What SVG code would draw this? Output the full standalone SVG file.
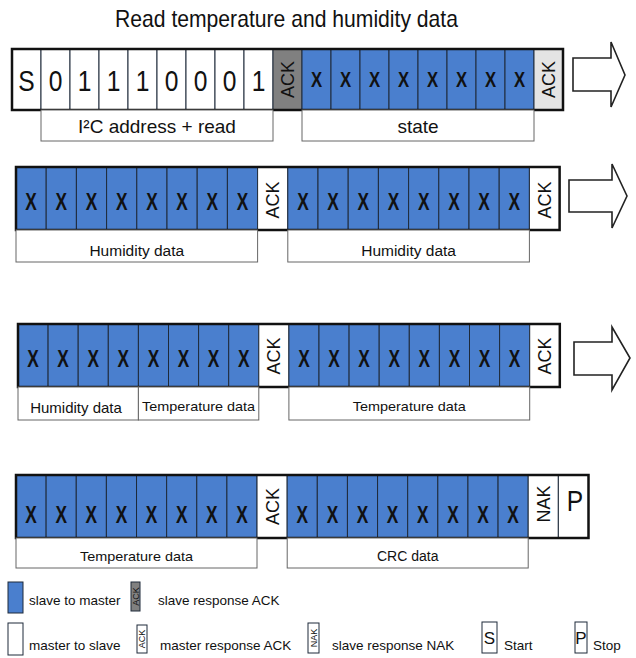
<svg xmlns="http://www.w3.org/2000/svg" width="636" height="658" viewBox="0 0 636 658">
<style>
text{font-family:"Liberation Sans",Arial,sans-serif;fill:#111}
.b{fill:#4a7fce;stroke:#1e2a3a;stroke-width:1}
.w{fill:#fff;stroke:#1e2a3a;stroke-width:1}
.g{fill:#808080;stroke:#1e2a3a;stroke-width:1}
.lg{fill:#e4e4e4;stroke:#1e2a3a;stroke-width:1}
.frame{fill:none;stroke:#111;stroke-width:2.5}
.lab{fill:#fff;stroke:#666;stroke-width:1}
.d{font-size:30px;text-anchor:middle;transform-box:fill-box;transform-origin:center;transform:scaleX(0.82)}
.x{font-size:24px;font-weight:bold;text-anchor:middle;transform-box:fill-box;transform-origin:center;transform:scaleX(0.72)}
.x1{font-size:22px;font-weight:bold;text-anchor:middle;transform-box:fill-box;transform-origin:center;transform:scaleX(0.76)}
.ack{font-size:18px;text-anchor:middle}
.t{text-anchor:middle}
.leg{font-size:13.5px}
.arr{fill:#fff;stroke:#222;stroke-width:1.6;stroke-linejoin:miter}
</style>

<text x="286.5" y="27" font-size="24" text-anchor="middle" textLength="343" lengthAdjust="spacingAndGlyphs">Read temperature and humidity data</text>

<!-- Row 1 -->
<g id="row1">
<rect class="w" x="12" y="49" width="29" height="61"/>
<rect class="w" x="41" y="49" width="29" height="61"/>
<rect class="w" x="70" y="49" width="29" height="61"/>
<rect class="w" x="99" y="49" width="29" height="61"/>
<rect class="w" x="128" y="49" width="29" height="61"/>
<rect class="w" x="157" y="49" width="29" height="61"/>
<rect class="w" x="186" y="49" width="29" height="61"/>
<rect class="w" x="215" y="49" width="29" height="61"/>
<rect class="w" x="244" y="49" width="29" height="61"/>
<rect class="g" x="273" y="49" width="29" height="61"/>
<rect class="b" x="302" y="49" width="29" height="61"/>
<rect class="b" x="331" y="49" width="29" height="61"/>
<rect class="b" x="360" y="49" width="29" height="61"/>
<rect class="b" x="389" y="49" width="29" height="61"/>
<rect class="b" x="418" y="49" width="29" height="61"/>
<rect class="b" x="447" y="49" width="29" height="61"/>
<rect class="b" x="476" y="49" width="29" height="61"/>
<rect class="b" x="505" y="49" width="29" height="61"/>
<rect class="lg" x="534" y="49" width="29" height="61"/>
<rect class="frame" x="12" y="49" width="551" height="61"/>
<text class="d" x="26.5" y="91">S</text>
<text class="d" x="55.5" y="91">0</text>
<text class="d" x="84.5" y="91">1</text>
<text class="d" x="113.5" y="91">1</text>
<text class="d" x="142.5" y="91">1</text>
<text class="d" x="171.5" y="91">0</text>
<text class="d" x="200.5" y="91">0</text>
<text class="d" x="229.5" y="91">0</text>
<text class="d" x="258.5" y="91">1</text>
<text class="ack" transform="translate(287.5,79.5) rotate(-90)" y="6.5">ACK</text>
<text class="x1" x="316.5" y="87.5">X</text>
<text class="x1" x="345.5" y="87.5">X</text>
<text class="x1" x="374.5" y="87.5">X</text>
<text class="x1" x="403.5" y="87.5">X</text>
<text class="x1" x="432.5" y="87.5">X</text>
<text class="x1" x="461.5" y="87.5">X</text>
<text class="x1" x="490.5" y="87.5">X</text>
<text class="x1" x="519.5" y="87.5">X</text>
<text class="ack" transform="translate(548.5,79.5) rotate(-90)" y="6.5">ACK</text>
</g>
<g id="row1-labels">
<rect class="lab" x="41" y="110" width="232" height="31"/>
<text class="t" x="157" y="133" font-size="19">I²C address + read</text>
<rect class="lab" x="302" y="110" width="232" height="31"/>
<text class="t" x="418" y="133" font-size="19">state</text>
</g>

<!-- Row 2 -->
<g id="row2">
<rect class="b" x="16" y="167" width="30.2" height="63"/>
<rect class="b" x="46.2" y="167" width="30.2" height="63"/>
<rect class="b" x="76.4" y="167" width="30.2" height="63"/>
<rect class="b" x="106.6" y="167" width="30.2" height="63"/>
<rect class="b" x="136.8" y="167" width="30.2" height="63"/>
<rect class="b" x="167" y="167" width="30.2" height="63"/>
<rect class="b" x="197.2" y="167" width="30.2" height="63"/>
<rect class="b" x="227.4" y="167" width="30.2" height="63"/>
<rect class="w" x="257.6" y="167" width="30.2" height="63"/>
<rect class="b" x="287.8" y="167" width="30.2" height="63"/>
<rect class="b" x="318" y="167" width="30.2" height="63"/>
<rect class="b" x="348.2" y="167" width="30.2" height="63"/>
<rect class="b" x="378.4" y="167" width="30.2" height="63"/>
<rect class="b" x="408.6" y="167" width="30.2" height="63"/>
<rect class="b" x="438.8" y="167" width="30.2" height="63"/>
<rect class="b" x="469" y="167" width="30.2" height="63"/>
<rect class="b" x="499.2" y="167" width="30.2" height="63"/>
<rect class="w" x="529.4" y="167" width="30.2" height="63"/>
<rect class="frame" x="16" y="167" width="543.6" height="63"/>
<text class="x" x="31.1" y="210">X</text>
<text class="x" x="61.3" y="210">X</text>
<text class="x" x="91.5" y="210">X</text>
<text class="x" x="121.7" y="210">X</text>
<text class="x" x="151.9" y="210">X</text>
<text class="x" x="182.1" y="210">X</text>
<text class="x" x="212.3" y="210">X</text>
<text class="x" x="242.5" y="210">X</text>
<text class="ack" transform="translate(272.7,200) rotate(-90)" y="6.5">ACK</text>
<text class="x" x="302.9" y="210">X</text>
<text class="x" x="333.1" y="210">X</text>
<text class="x" x="363.3" y="210">X</text>
<text class="x" x="393.5" y="210">X</text>
<text class="x" x="423.7" y="210">X</text>
<text class="x" x="453.9" y="210">X</text>
<text class="x" x="484.1" y="210">X</text>
<text class="x" x="514.3" y="210">X</text>
<text class="ack" transform="translate(544.5,200) rotate(-90)" y="6.5">ACK</text>
</g>
<g id="row2-labels">
<rect class="lab" x="16" y="230" width="241.6" height="32"/>
<text class="t" x="136.8" y="256" font-size="15.5">Humidity data</text>
<rect class="lab" x="287.8" y="230" width="241.6" height="32"/>
<text class="t" x="408.6" y="256" font-size="15.5">Humidity data</text>
</g>

<!-- Row 3 -->
<g id="row3">
<rect class="b" x="18" y="324" width="30.1" height="63"/>
<rect class="b" x="48.1" y="324" width="30.1" height="63"/>
<rect class="b" x="78.2" y="324" width="30.1" height="63"/>
<rect class="b" x="108.3" y="324" width="30.1" height="63"/>
<rect class="b" x="138.4" y="324" width="30.1" height="63"/>
<rect class="b" x="168.5" y="324" width="30.1" height="63"/>
<rect class="b" x="198.6" y="324" width="30.1" height="63"/>
<rect class="b" x="228.7" y="324" width="30.1" height="63"/>
<rect class="w" x="258.8" y="324" width="30.1" height="63"/>
<rect class="b" x="288.9" y="324" width="30.1" height="63"/>
<rect class="b" x="319" y="324" width="30.1" height="63"/>
<rect class="b" x="349.1" y="324" width="30.1" height="63"/>
<rect class="b" x="379.2" y="324" width="30.1" height="63"/>
<rect class="b" x="409.3" y="324" width="30.1" height="63"/>
<rect class="b" x="439.4" y="324" width="30.1" height="63"/>
<rect class="b" x="469.5" y="324" width="30.1" height="63"/>
<rect class="b" x="499.6" y="324" width="30.1" height="63"/>
<rect class="w" x="529.7" y="324" width="30.1" height="63"/>
<rect class="frame" x="18" y="324" width="541.8" height="63"/>
<text class="x" x="33" y="367">X</text>
<text class="x" x="63.1" y="367">X</text>
<text class="x" x="93.2" y="367">X</text>
<text class="x" x="123.3" y="367">X</text>
<text class="x" x="153.4" y="367">X</text>
<text class="x" x="183.5" y="367">X</text>
<text class="x" x="213.6" y="367">X</text>
<text class="x" x="243.7" y="367">X</text>
<text class="ack" transform="translate(273.8,356) rotate(-90)" y="6.5">ACK</text>
<text class="x" x="303.9" y="367">X</text>
<text class="x" x="334" y="367">X</text>
<text class="x" x="364.1" y="367">X</text>
<text class="x" x="394.2" y="367">X</text>
<text class="x" x="424.3" y="367">X</text>
<text class="x" x="454.4" y="367">X</text>
<text class="x" x="484.5" y="367">X</text>
<text class="x" x="514.6" y="367">X</text>
<text class="ack" transform="translate(544.7,356) rotate(-90)" y="6.5">ACK</text>
</g>
<g id="row3-labels">
<rect class="lab" x="18" y="387" width="120.4" height="33"/>
<text class="t" x="76" y="413" font-size="15">Humidity data</text>
<rect class="lab" x="138.4" y="387" width="120.4" height="33"/>
<text class="t" x="198.6" y="411" font-size="13.5" textLength="113" lengthAdjust="spacingAndGlyphs">Temperature data</text>
<rect class="lab" x="288.9" y="387" width="240.8" height="33"/>
<text class="t" x="409.3" y="411" font-size="13.5" textLength="113" lengthAdjust="spacingAndGlyphs">Temperature data</text>
</g>

<!-- Row 4 -->
<g id="row4">
<rect class="b" x="16" y="475" width="30.13" height="63"/>
<rect class="b" x="46.13" y="475" width="30.13" height="63"/>
<rect class="b" x="76.26" y="475" width="30.13" height="63"/>
<rect class="b" x="106.39" y="475" width="30.13" height="63"/>
<rect class="b" x="136.52" y="475" width="30.13" height="63"/>
<rect class="b" x="166.65" y="475" width="30.13" height="63"/>
<rect class="b" x="196.78" y="475" width="30.13" height="63"/>
<rect class="b" x="226.91" y="475" width="30.13" height="63"/>
<rect class="w" x="257.04" y="475" width="30.13" height="63"/>
<rect class="b" x="287.17" y="475" width="30.13" height="63"/>
<rect class="b" x="317.3" y="475" width="30.13" height="63"/>
<rect class="b" x="347.43" y="475" width="30.13" height="63"/>
<rect class="b" x="377.56" y="475" width="30.13" height="63"/>
<rect class="b" x="407.69" y="475" width="30.13" height="63"/>
<rect class="b" x="437.82" y="475" width="30.13" height="63"/>
<rect class="b" x="467.95" y="475" width="30.13" height="63"/>
<rect class="b" x="498.08" y="475" width="30.13" height="63"/>
<rect class="w" x="528.21" y="475" width="30.13" height="63"/>
<rect class="w" x="558.34" y="475" width="30.13" height="63"/>
<rect class="frame" x="16" y="475" width="572.5" height="63"/>
<text class="x" x="31.1" y="523">X</text>
<text class="x" x="61.2" y="523">X</text>
<text class="x" x="91.3" y="523">X</text>
<text class="x" x="121.5" y="523">X</text>
<text class="x" x="151.6" y="523">X</text>
<text class="x" x="181.7" y="523">X</text>
<text class="x" x="211.8" y="523">X</text>
<text class="x" x="242" y="523">X</text>
<text class="ack" transform="translate(272.1,506.5) rotate(-90)" y="6.5">ACK</text>
<text class="x" x="302.2" y="523">X</text>
<text class="x" x="332.4" y="523">X</text>
<text class="x" x="362.5" y="523">X</text>
<text class="x" x="392.6" y="523">X</text>
<text class="x" x="422.8" y="523">X</text>
<text class="x" x="452.9" y="523">X</text>
<text class="x" x="483" y="523">X</text>
<text class="x" x="513.1" y="523">X</text>
<text class="ack" transform="translate(543.3,504) rotate(-90)" y="6.5">NAK</text>
<text class="d" x="575" y="511" font-size="27">P</text>
</g>
<g id="row4-labels">
<rect class="lab" x="16" y="538" width="241" height="30"/>
<text class="t" x="136.5" y="561" font-size="13.5" textLength="113" lengthAdjust="spacingAndGlyphs">Temperature data</text>
<rect class="lab" x="287.2" y="538" width="241" height="30"/>
<text class="t" x="407.7" y="561" font-size="14">CRC data</text>
</g>

<!-- Connectors: continuation arrows -->
<g id="connectors">
<polygon class="arr" points="573,58 611,58 611,42 625,75 611,107 611,91 573,91"/>
<polygon class="arr" points="569,180 612,180 612,164 627,196 612,228 612,212 569,212"/>
<polygon class="arr" points="574,342 612,342 612,327 630,358 612,390 612,375 574,375"/>
</g>

<!-- Legend -->
<g id="legend-slave-to-master">
<rect class="b" x="8" y="582" width="15" height="31"/>
<text class="leg" x="29" y="605">slave to master</text>
</g>
<g id="legend-slave-ack">
<rect class="g" x="131" y="582" width="9" height="29"/>
<text transform="translate(135.5,596.5) rotate(-90)" y="3.3" font-size="9" text-anchor="middle">ACK</text>
<text class="leg" x="158" y="605">slave response ACK</text>
</g>
<g id="legend-master-to-slave">
<rect class="w" x="8" y="623" width="15" height="32"/>
<text class="leg" x="29" y="650">master to slave</text>
</g>
<g id="legend-master-ack">
<rect class="w" x="137" y="625" width="10" height="28"/>
<text transform="translate(142,639) rotate(-90)" y="3.3" font-size="9" text-anchor="middle">ACK</text>
<text class="leg" x="160" y="650">master response ACK</text>
</g>
<g id="legend-nak">
<rect class="w" x="308" y="623" width="11" height="30"/>
<text transform="translate(313.5,638) rotate(-90)" y="3.3" font-size="9" text-anchor="middle">NAK</text>
<text class="leg" x="332" y="650">slave response NAK</text>
</g>
<g id="legend-start">
<rect class="w" x="482" y="622" width="15" height="31"/>
<text x="489.5" y="644" font-size="17" text-anchor="middle">S</text>
<text class="leg" x="504" y="650">Start</text>
</g>
<g id="legend-stop">
<rect class="w" x="575" y="622" width="12" height="31"/>
<text x="581" y="644" font-size="17" text-anchor="middle">P</text>
<text class="leg" x="593" y="650">Stop</text>
</g>
</svg>
